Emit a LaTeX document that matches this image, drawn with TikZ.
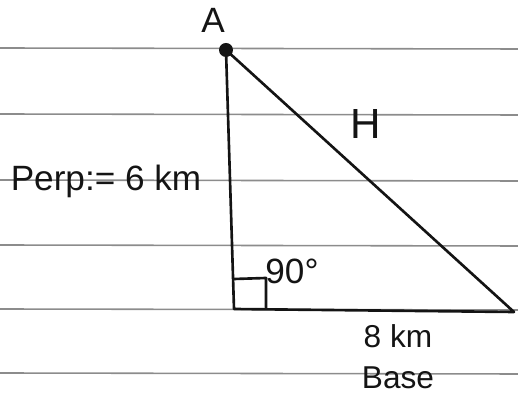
\documentclass[tikz,border=0pt]{standalone}
\usepackage{fontspec}
\setmainfont{Liberation Sans}
\usetikzlibrary{
    positioning,
    calc
}
\tikzset{
  side/.style    = {draw=inkBlack, line width=1.5pt, line join=round},
  ruling/.style  = {ruleGray, line width=0.9pt},
  lbl/.style     = {font=\fontsize{20}{24}\selectfont, text=inkBlack, inner sep=1pt},
  slbl/.style    = {lbl, font=\fontsize{18}{21}\selectfont, inner sep=0pt},
  vtx/.style     = {circle, fill=inkBlack, inner sep=0pt, minimum size=0.28cm}
}
\definecolor{inkBlack}{RGB}{20,20,20}
\definecolor{ruleGray}{RGB}{140,140,140}

\begin{document}
\begin{tikzpicture}[x=0.02cm, y=-0.02cm]
        \useasboundingbox (0,0) rectangle (518,401);
        % ruled paper
        \foreach \yy in {48,114,180,245,309,373}
          \draw[ruling] (0,\yy) -- (518,\yy+1);
        % triangle
        \node[vtx] (A) at (226,50) {};
        \coordinate (C) at (234,309);
        \coordinate (B) at (514,312);
        \draw[side] (A.center) -- (C) -- (B) -- (A.center);
        \draw[side] ($(C)+(0,-30)$) -- ++(32,-1) -- ++(0,31);
        % labels
        \node[lbl] (lblA) at (213,20) {A};
        \node[lbl] (perp) at (106,181) {Perp:= 6 km};
        \node[lbl, font=\fontsize{24}{28}\selectfont] (hyp) at (366,124) {H};
        \node[lbl] (ang) at (292,271) {90°};
        \node[slbl] (base) at (398,336) {8 km};
        \node[slbl] (baseTxt) at (398,378) {Base};
      \end{tikzpicture}
\end{document}
